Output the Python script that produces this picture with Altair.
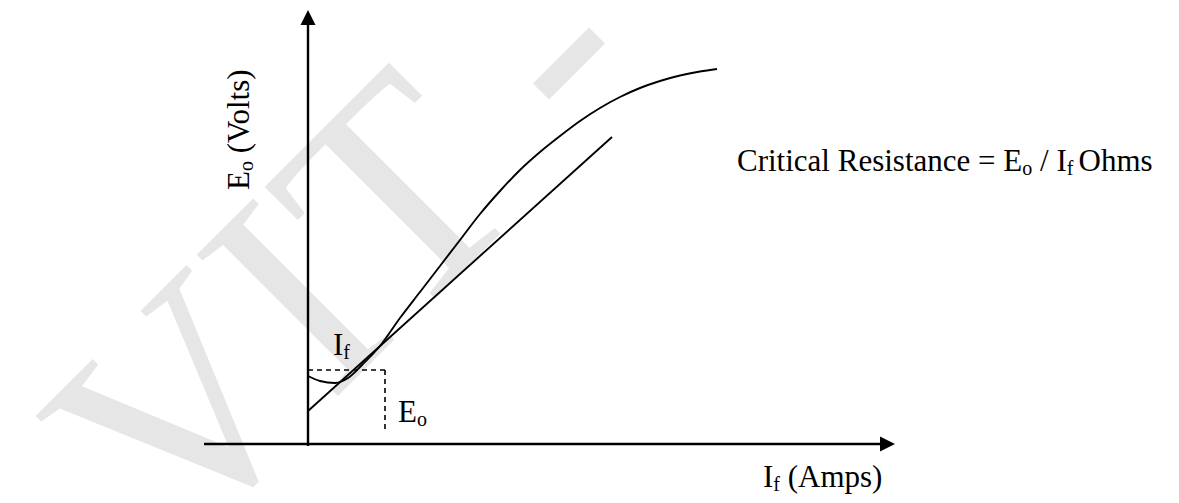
import altair as alt
import pandas as pd

# Open-circuit (magnetisation) curve: field current If (A) vs generated emf Eo (V)
occ_if = [0, 0.12, 0.27, 0.40, 0.54, 0.72, 0.92, 1.12, 1.32, 1.52, 1.72, 1.92,
          2.12, 2.32, 2.52, 2.72, 2.92, 3.12, 3.32, 3.52, 3.72, 3.92, 4.09]
occ_eo = [34, 31.5, 30.5, 33, 39.5, 49, 63, 76, 89, 102, 115, 126.5,
          137, 146, 154, 161.5, 168, 173.5, 178, 181.5, 184.25, 186.25, 187.5]

# Critical field-resistance line
crit_if = [0, 3.04]
crit_eo = [16.5, 153.5]

# Dashed construction (If, Eo) marking the readings
dash_if = [0, 0.77]
dash_eo = [37, 6]

# Axis extents
x_axis_if = [-1.04, 5.80]
y_axis_eo = [-1, 211]
x_tip = 5.795
y_tip = 213.25

FONT = "Liberation Serif, 'Times New Roman', 'DejaVu Serif', serif"
xs = alt.Scale(domain=[-3.0, 8.63], nice=False, zero=False)
ys = alt.Scale(domain=[-25.5, 218], nice=False, zero=False)
X = alt.X("x:Q", scale=xs, axis=None)
Y = alt.Y("y:Q", scale=ys, axis=None)
X2 = alt.X2("x2:Q")
Y2 = alt.Y2("y2:Q")

occ = pd.DataFrame({"x": occ_if, "y": occ_eo})
crit = pd.DataFrame({"x": crit_if, "y": crit_eo})

axes = pd.DataFrame({
    "x": [x_axis_if[0], 0],
    "x2": [x_axis_if[1], 0],
    "y": [0, y_axis_eo[0]],
    "y2": [0, y_axis_eo[1]],
})
dashes = pd.DataFrame({
    "x": [dash_if[0], dash_if[1]],
    "x2": [dash_if[1], dash_if[1]],
    "y": [dash_eo[0], dash_eo[0]],
    "y2": [dash_eo[0], dash_eo[1]],
})
tips_x = pd.DataFrame({"x": [x_tip], "y": [0]})
tips_y = pd.DataFrame({"x": [0], "y": [y_tip]})

labels = pd.DataFrame({
    "x": [-0.59, -0.55, -0.59,
          4.29, 7.143, 7.321, 7.588, 7.705,
          4.55, 4.653, 4.797,
          0.25, 0.353,
          0.90, 1.089],
    "y": [127, 136.45, 145.35,
          136.5, 134.5, 136.5, 134.5, 136.5,
          -21.5, -23.5, -21.5,
          44.5, 42.5,
          11, 9],
    "text": ["E", "o", "(Volts)",
             "Critical Resistance = E", "o", "/ I", "f", "Ohms",
             "I", "f", "(Amps)",
             "I", "f",
             "E", "o"],
    "fs": [31, 20, 31,
           31, 20, 31, 20, 31,
           31, 20, 31,
           31, 20,
           31, 20],
    "ang": [270, 270, 270] + [0] * 12,
})

wm = pd.DataFrame({"x": [-1.336], "y": [-57.8], "text": ["VIT -"]})

watermark = alt.Chart(wm).mark_text(
    align="left", baseline="alphabetic", font=FONT, fontSize=305,
    angle=315, color="#e6e6e6"
).encode(X, Y, text="text:N")

axis_rules = alt.Chart(axes).mark_rule(color="black", strokeWidth=2.4).encode(X, Y, X2, Y2)
dash_rules = alt.Chart(dashes).mark_rule(color="black", strokeWidth=1.6, strokeDash=[5, 4]).encode(X, Y, X2, Y2)

arrow_x = alt.Chart(tips_x).mark_point(
    shape="M-1,-1L1,0L-1,1Z", size=225, filled=True, color="black", opacity=1, strokeWidth=0
).encode(X, Y)
arrow_y = alt.Chart(tips_y).mark_point(
    shape="M-1,1L0,-1L1,1Z", size=225, filled=True, color="black", opacity=1, strokeWidth=0
).encode(X, Y)

curve = alt.Chart(occ).mark_line(color="black", strokeWidth=1.9, interpolate="monotone").encode(X, Y)
line = alt.Chart(crit).mark_line(color="black", strokeWidth=1.9).encode(X, Y)

text = alt.Chart(labels).mark_text(
    align="left", baseline="alphabetic", font=FONT, color="black"
).encode(
    X, Y, text="text:N",
    size=alt.Size("fs:Q", scale=None),
    angle=alt.Angle("ang:Q", scale=None),
)

chart = alt.layer(
    watermark, dash_rules, axis_rules, arrow_x, arrow_y, line, curve, text
).properties(
    width=1163, height=487, padding=0, autosize="none", background="white"
).configure_view(stroke=None)

chart.save("out.html", embed_options={"renderer": "svg", "actions": False})
